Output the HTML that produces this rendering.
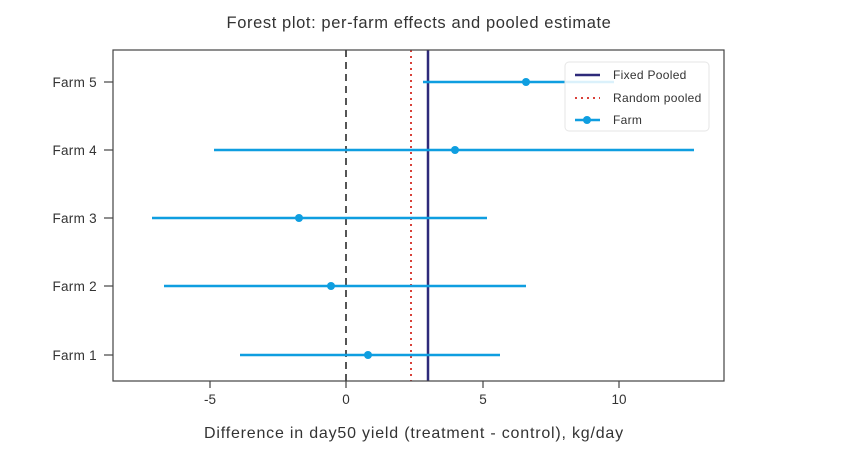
<!DOCTYPE html>
<html><head><style>body{margin:0;background:#fff}svg{display:block;font-family:"Liberation Sans",sans-serif}</style></head>
<body>
<svg width="858" height="470" viewBox="0 0 858 470">
<rect width="858" height="470" fill="#fff"/>
<text x="419" y="28" font-size="16.5" letter-spacing="0.6" text-anchor="middle" fill="#333">Forest plot: per-farm effects and pooled estimate</text>
<line x1="346" y1="50" x2="346" y2="381" stroke="#555" stroke-width="2" stroke-dasharray="7,5"/>
<line x1="411" y1="50" x2="411" y2="381" stroke="#d9413a" stroke-width="2" stroke-dasharray="2,4"/>
<line x1="428" y1="50" x2="428" y2="381" stroke="#2e2a7a" stroke-width="2.5"/>
<g stroke="#0f9ee0" stroke-width="2.5" fill="#0f9ee0">
<line x1="423" y1="82" x2="614" y2="82"/><circle cx="526" cy="82" r="4" stroke="none"/>
<line x1="214" y1="150" x2="694" y2="150"/><circle cx="455" cy="150" r="4" stroke="none"/>
<line x1="152" y1="218" x2="487" y2="218"/><circle cx="299" cy="218" r="4" stroke="none"/>
<line x1="164" y1="286" x2="526" y2="286"/><circle cx="331" cy="286" r="4" stroke="none"/>
<line x1="240" y1="355" x2="500" y2="355"/><circle cx="368" cy="355" r="4" stroke="none"/>
</g>
<rect x="565" y="62" width="144" height="69" rx="4" fill="#fff" fill-opacity="0.85" stroke="#e6e6e6"/>
<line x1="575" y1="75" x2="600" y2="75" stroke="#2e2a7a" stroke-width="2.5"/>
<text x="613" y="79" font-size="12" letter-spacing="0.3" fill="#333">Fixed Pooled</text>
<line x1="575" y1="98" x2="600" y2="98" stroke="#d9413a" stroke-width="2" stroke-dasharray="2,4"/>
<text x="613" y="102" font-size="12" letter-spacing="0.3" fill="#333">Random pooled</text>
<line x1="575" y1="120" x2="600" y2="120" stroke="#0f9ee0" stroke-width="2.5"/><circle cx="587" cy="120" r="4" fill="#0f9ee0"/>
<text x="613" y="124" font-size="12" letter-spacing="0.3" fill="#333">Farm</text>
<rect x="113" y="50" width="611" height="331" fill="none" stroke="#444" stroke-width="1.2"/>
<g stroke="#444" stroke-width="1.2">
<line x1="104" y1="82" x2="113" y2="82"/><line x1="104" y1="150" x2="113" y2="150"/><line x1="104" y1="218" x2="113" y2="218"/><line x1="104" y1="286" x2="113" y2="286"/><line x1="104" y1="355" x2="113" y2="355"/>
<line x1="210" y1="381" x2="210" y2="388"/><line x1="346" y1="381" x2="346" y2="388"/><line x1="483" y1="381" x2="483" y2="388"/><line x1="619" y1="381" x2="619" y2="388"/>
</g>
<g font-size="13.5" letter-spacing="0.3" fill="#333" text-anchor="end">
<text x="97" y="87">Farm 5</text><text x="97" y="155">Farm 4</text><text x="97" y="223">Farm 3</text><text x="97" y="291">Farm 2</text><text x="97" y="360">Farm 1</text>
</g>
<g font-size="13.5" fill="#333" text-anchor="middle">
<text x="210" y="404">-5</text><text x="346" y="404">0</text><text x="483" y="404">5</text><text x="619" y="404">10</text>
</g>
<text x="414" y="438" font-size="16" letter-spacing="0.8" text-anchor="middle" fill="#333">Difference in day50 yield (treatment - control), kg/day</text>
</svg>
</body></html>
